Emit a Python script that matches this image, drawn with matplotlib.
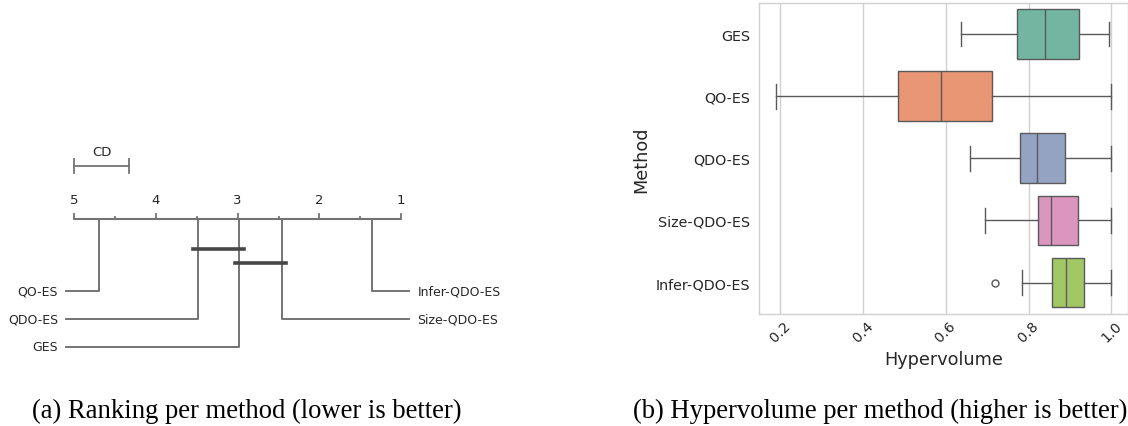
import numpy as np
import matplotlib.pyplot as plt
import seaborn as sns

methods = ["GES", "QO-ES", "QDO-ES", "Size-QDO-ES", "Infer-QDO-ES"]

# (a) critical difference diagram: average ranks, CD, non-significant groups
avg_rank = [2.98, 4.70, 3.49, 2.46, 1.36]
cd = 0.67
cliques = [["QDO-ES", "GES"], ["GES", "Size-QDO-ES"]]

# (b) hypervolume box statistics per method
hv_low = [0.636, 0.191, 0.659, 0.696, 0.784]
hv_q1 = [0.773, 0.486, 0.779, 0.822, 0.857]
hv_med = [0.839, 0.589, 0.820, 0.855, 0.891]
hv_q3 = [0.921, 0.713, 0.887, 0.919, 0.933]
hv_high = [0.993, 1.0, 1.0, 1.0, 1.0]
hv_fliers = [[], [], [], [], [0.718]]

TXT = "#262626"
LINE = "0.45"

fig = plt.figure(figsize=(11.28, 4.27), dpi=100)

# ---------------- (a) CD diagram ----------------
# axes spans the left half; x in rank units, y in pixel-like layout units
axL = fig.add_axes([0, 0, 0.5, 1])
axL.axis("off")
axL.set_xlim(5.909, -0.994)
axL.set_ylim(427, 0)

y_axis = 220
axL.plot([5, 1], [y_axis, y_axis], color=LINE, lw=1.5, solid_capstyle="butt")
for r in np.arange(1, 5.01, 0.5):
    major = float(r).is_integer()
    axL.plot([r, r], [y_axis, y_axis - (5 if major else 2.5)], color=LINE, lw=1.3)
    if major:
        axL.text(r, 201, f"{int(r)}", ha="center", va="center", fontsize=9.5, color=TXT)

# CD scale bar
y_cd = 167
axL.plot([5, 5 - cd], [y_cd, y_cd], color=LINE, lw=1.3)
for e in (5, 5 - cd):
    axL.plot([e, e], [y_cd - 7, y_cd + 7], color=LINE, lw=1.3)
axL.text(5 - cd / 2, 152.5, "CD", ha="center", va="center", fontsize=9.5, color=TXT)

# method elbows: worst ranks on the left, best on the right
order = np.argsort(avg_rank)[::-1]
n_left = 3
left = order[:n_left]
right = order[n_left:][::-1]
row_y = [292, 320, 348]
for i, m in enumerate(left):
    r = avg_rank[m]
    y = row_y[i]
    axL.plot([r, r, 5.1], [y_axis, y, y], color=LINE, lw=1.4)
    axL.text(5.2, y, methods[m], ha="right", va="center", fontsize=9, color=TXT)
for i, m in enumerate(right):
    r = avg_rank[m]
    y = row_y[i]
    axL.plot([r, r, 0.9], [y_axis, y, y], color=LINE, lw=1.4)
    axL.text(0.8, y, methods[m], ha="left", va="center", fontsize=9, color=TXT)

# clique bars
ext = 0.055
for i, grp in enumerate(cliques):
    rs = [avg_rank[methods.index(g)] for g in grp]
    y = 250 + 14 * i
    axL.plot([max(rs) + ext, min(rs) - ext], [y, y], color="0.28", lw=2.6)

# ---------------- (b) hypervolume boxplot ----------------
pal = sns.color_palette("Set2", len(methods), desat=0.75)
axR = fig.add_axes([759.3 / 1128, 1 - 314.7 / 427, 1 - 759.3 / 1128, 310.7 / 427])
stats = []
for i, m in enumerate(methods):
    stats.append(dict(label=m, whislo=hv_low[i], q1=hv_q1[i], med=hv_med[i],
                      q3=hv_q3[i], whishi=hv_high[i], fliers=hv_fliers[i]))
edge = "#595959"
bp = axR.bxp(stats, positions=range(len(methods)), widths=0.8, orientation="horizontal",
             patch_artist=True, showfliers=True,
             boxprops=dict(edgecolor=edge, linewidth=1.0),
             medianprops=dict(color=edge, linewidth=1.0),
             whiskerprops=dict(color=edge, linewidth=1.0),
             capprops=dict(color=edge, linewidth=1.0),
             flierprops=dict(marker="o", markersize=5, markerfacecolor="none",
                             markeredgecolor=edge, markeredgewidth=1.0))
for patch, c in zip(bp["boxes"], pal):
    patch.set_facecolor(c)

axR.set_xlim(0.1505, 1.04)
axR.set_ylim(4.5, -0.5)
axR.set_axisbelow(True)
axR.grid(axis="x", color="0.82", lw=1.0)
axR.grid(axis="y", visible=False)
for s in axR.spines.values():
    s.set_color("0.82")
    s.set_linewidth(1.0)
axR.set_xticks([0.2, 0.4, 0.6, 0.8, 1.0])
axR.set_yticks(range(len(methods)))
axR.set_yticklabels(methods)
axR.tick_params(axis="both", length=0, labelsize=10.3, labelcolor=TXT)
axR.tick_params(axis="y", pad=6.8)
axR.tick_params(axis="x", pad=3.5)
for lab in axR.get_xticklabels():
    lab.set_rotation(45)
axR.set_xlabel("Hypervolume", fontsize=12.7, color=TXT)
axR.set_ylabel("Method", fontsize=12.7, color=TXT)

# captions
cap = dict(fontsize=19.2, family="Liberation Serif", color="black", ha="center", va="center")
fig.text(0.219, 0.037, "(a) Ranking per method (lower is better)", **cap)
fig.text(0.780, 0.037, "(b) Hypervolume per method (higher is better)", **cap)

fig.savefig("out.png", dpi=100)
